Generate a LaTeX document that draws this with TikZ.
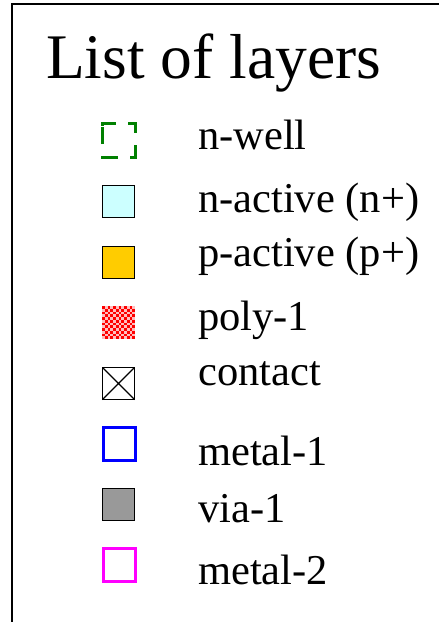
\documentclass[tikz,border=0pt]{standalone}
\usepackage{fontspec}
\setmainfont{Liberation Serif}
\definecolor{wellgreen}{RGB}{0,128,0}
\definecolor{nactfill}{RGB}{204,255,255}
\definecolor{pactfill}{RGB}{255,204,0}
\definecolor{viagray}{RGB}{153,153,153}
\definecolor{mtwo}{RGB}{255,0,255}
\definecolor{mone}{RGB}{0,0,255}
\begin{document}
\begin{tikzpicture}[x=1pt,y=-1pt,
  icon/.style={draw=black,line width=1.4pt},
  lbl/.style={anchor=base west,inner sep=0pt,font=\fontsize{42.5}{48}\selectfont},
  ttl/.style={anchor=base west,inner sep=0pt,font=\fontsize{63.5}{72}\selectfont}]
\useasboundingbox (0,0) rectangle (439,622);
% frame (right and bottom edges lie outside the page)
\coordinate (fl) at (12,622);
\coordinate (ftl) at (12,4);
\coordinate (ftr) at (439,4);
\draw[line width=1.5pt] (fl) -- (ftl) -- (ftr);
% title
\node[ttl] (title) at (46,78) {List of layers};
% n-well
\draw[draw=wellgreen,line width=3pt,dash pattern=on 17pt off 12pt]
  (102,126) -- (102,123) -- (135,123) -- (135,157) -- (102,157) -- cycle;
\node[lbl] (nwell) at (198,149) {n-well};
% n-active
\draw[icon,fill=nactfill] (102.5,185.5) rectangle (134.5,217.5);
\node[lbl] (nact) at (198,212) {n-active (n+)};
% p-active
\draw[icon,fill=pactfill] (102.5,246.5) rectangle (134.5,278.5);
\node[lbl] (pact) at (198,266) {p-active (p+)};
% poly-1: red checker
\fill[red!25] (102,306) rectangle (135,339);
\foreach \i in {0,...,11}{
  \foreach \j in {0,...,11}{
    \pgfmathparse{int(mod(\i+\j,2))}
    \ifnum\pgfmathresult=0
      \fill[red] (102+\i*2.75,306+\j*2.75) rectangle ++(2.75,2.75);
    \fi
  }
}
\node[lbl] (poly) at (198,330) {poly-1};
% contact
\draw[icon] (102.5,367.5) rectangle (134.5,399.5);
\draw[line width=1.4pt] (102.5,367.5) -- (134.5,399.5) (102.5,399.5) -- (134.5,367.5);
\node[lbl] (cont) at (198,385) {contact};
% metal-1
\draw[draw=mone,line width=3pt,fill=white] (103.5,427.5) rectangle (135.5,460.5);
\node[lbl] (m1) at (198,465) {metal-1};
% via-1
\draw[icon,fill=viagray] (102.5,488.5) rectangle (134.5,520.5);
\node[lbl] (via) at (198,522) {via-1};
% metal-2
\draw[draw=mtwo,line width=3pt,fill=white] (103.5,548.5) rectangle (135.5,581.5);
\node[lbl] (m2) at (198,584) {metal-2};
\end{tikzpicture}
\end{document}
